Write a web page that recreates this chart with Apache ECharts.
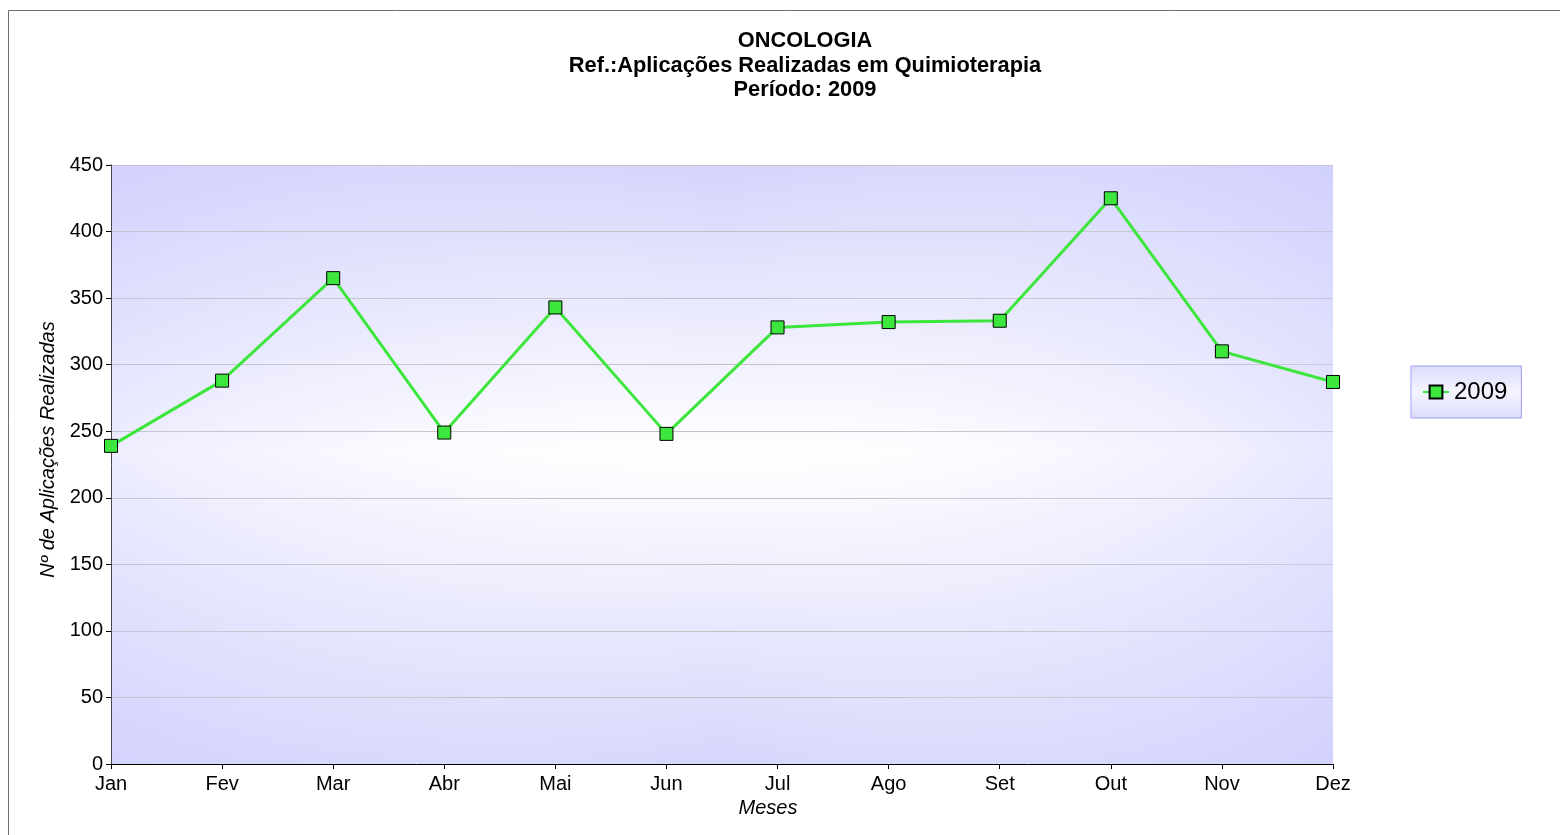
<!DOCTYPE html>
<html>
<head>
<meta charset="utf-8">
<script src="https://cdn.jsdelivr.net/npm/echarts@6/dist/echarts.min.js"></script>
<style>
html,body{margin:0;padding:0;background:#fff;}
#chart{width:1560px;height:835px;}
</style>
</head>
<body>
<div id="chart"></div>
<script>
const titleLines = ['ONCOLOGIA', 'Ref.:Aplicações Realizadas em Quimioterapia', 'Período: 2009'];
const months = ['Jan','Fev','Mar','Abr','Mai','Jun','Jul','Ago','Set','Out','Nov','Dez'];
const seriesName = '2009';
const values2009 = [239, 288, 365, 249, 343, 248, 328, 332, 333, 425, 310, 287];
const yTicks = {min: 0, max: 450, interval: 50};
const xAxisName = 'Meses';
const yAxisName = 'Nº de Aplicações Realizadas';

const FONT = '"Liberation Sans", Arial, sans-serif';
const chart = echarts.init(document.getElementById('chart'), null, {renderer: 'canvas'});

chart.setOption({
  backgroundColor: '#ffffff',
  animation: false,
  graphic: [{
    type: 'rect', z: -10, silent: true,
    shape: {x: 8.5, y: 10.5, width: 1600, height: 900},
    style: {fill: '#ffffff', stroke: '#6e6e6e', lineWidth: 1}
  }],
  title: {
    text: titleLines.join('\n'),
    left: 800, textAlign: 'center', top: 24,
    textStyle: {fontFamily: FONT, fontSize: 21.8, fontWeight: 'bold', color: '#000', lineHeight: 24.5}
  },
  legend: {
    data: [seriesName],
    left: 1411, top: 366,
    orient: 'vertical',
    padding: [14, 14, 14, 11],
    itemWidth: 26, itemHeight: 16, itemGap: 4,
    borderColor: '#9f9ff5', borderWidth: 1,
    backgroundColor: {
      type: 'linear', x: 0, y: 0, x2: 0, y2: 1,
      colorStops: [{offset: 0, color: '#dcdcfc'}, {offset: 0.5, color: '#f4f4ff'}, {offset: 1, color: '#dcdcfc'}]
    },
    textStyle: {fontFamily: FONT, fontSize: 24, color: '#000', padding: [0, 0, 0, 0]}
  },
  grid: {
    left: 111, right: 227, top: 165, bottom: 71,
    show: true, borderWidth: 0,
    backgroundColor: {
      type: 'linear', x: 0, y: 0, x2: 0, y2: 1,
      colorStops: [
        {offset: 0, color: '#d4d4fc'},
        {offset: 0.48, color: '#ffffff'},
        {offset: 1, color: '#d6d6fc'}
      ]
    }
  },
  xAxis: {
    type: 'category',
    data: months,
    boundaryGap: false,
    name: xAxisName,
    nameLocation: 'middle',
    nameGap: 33,
    nameTextStyle: {fontFamily: FONT, fontSize: 20, fontStyle: 'italic', color: '#000', padding: [0, 0, 0, 92]},
    axisLine: {lineStyle: {color: '#000', width: 1}},
    axisTick: {show: true, inside: false, length: 5, lineStyle: {color: '#000'}},
    axisLabel: {fontFamily: FONT, fontSize: 20, color: '#000', margin: 10},
    splitLine: {show: false}
  },
  yAxis: {
    type: 'value',
    min: yTicks.min, max: yTicks.max, interval: yTicks.interval,
    name: yAxisName,
    nameLocation: 'middle',
    nameGap: 47,
    nameRotate: 90,
    nameTextStyle: {fontFamily: FONT, fontSize: 20, fontStyle: 'italic', color: '#000', padding: [0, 0, 0, 30]},
    axisLine: {show: true, lineStyle: {color: '#000', width: 1}},
    axisTick: {show: true, inside: false, length: 5, lineStyle: {color: '#000'}},
    axisLabel: {fontFamily: FONT, fontSize: 20, color: '#000', margin: 8},
    splitLine: {show: true, lineStyle: {color: '#c0c0c0', width: 1}}
  },
  series: [{
    name: seriesName,
    type: 'line',
    data: values2009,
    symbol: 'rect',
    symbolSize: 13,
    lineStyle: {color: '#3ce63c', width: 3},
    itemStyle: {color: '#3ce63c', borderColor: '#000', borderWidth: 1},
    emphasis: {disabled: true},
    z: 5,
    markArea: {
      silent: true,
      itemStyle: {
        color: {
          type: 'linear', x: 0, y: 0, x2: 1, y2: 0,
          colorStops: [
            {offset: 0, color: 'rgba(204,204,255,0.35)'},
            {offset: 0.5, color: 'rgba(255,255,255,0)'},
            {offset: 1, color: 'rgba(204,204,255,0.45)'}
          ]
        }
      },
      data: [[{xAxis: months[0], yAxis: yTicks.min}, {xAxis: months[months.length - 1], yAxis: yTicks.max}]]
    }
  }]
});
</script>
</body>
</html>
